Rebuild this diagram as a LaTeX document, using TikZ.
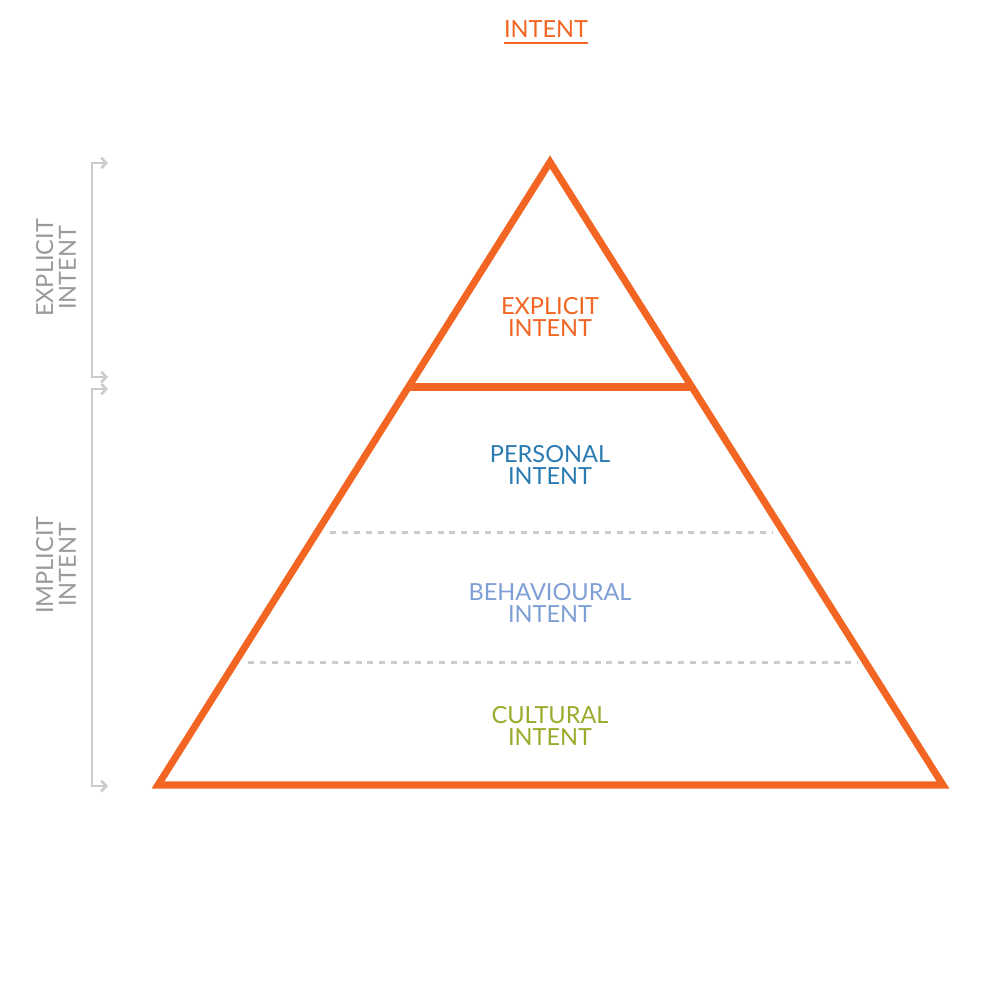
\documentclass[tikz,border=0pt]{standalone}
\usepackage{fontspec}
\setmainfont{Lato}
\usetikzlibrary{arrows.meta}
\definecolor{org}{HTML}{F26522}
\definecolor{pers}{HTML}{2B7BB3}
\definecolor{behav}{HTML}{7E9FD6}
\definecolor{cult}{HTML}{9CAA2C}
\definecolor{lbl}{HTML}{9A9A9A}
\definecolor{brk}{HTML}{CCCCCC}
\begin{document}
\begin{tikzpicture}[x=0.1mm,y=-0.1mm,
  lab/.style={font=\fontsize{6.7}{6.5}\selectfont, align=center, inner sep=0pt},
  side/.style={lab, text=lbl, rotate=90},
  bracket/.style={draw=brk, line width=0.75pt, {Straight Barb[length=1.4pt,width=3pt]}-{Straight Barb[length=1.4pt,width=3pt]}},
  divider/.style={draw=brk, line width=0.85pt, dash pattern=on 1.7pt off 1.7pt}]
\useasboundingbox (0,0) rectangle (1000,1000);
\fill[white] (0,0) rectangle (1000,1000);
% triangle
\coordinate (apex) at (550,162);
\coordinate (bl) at (158,785);
\coordinate (br) at (943,785);
\coordinate (ml) at (409,387);
\coordinate (mr) at (691,387);
\coordinate (d1l) at (330,532);
\coordinate (d1r) at (773,532);
\coordinate (d2l) at (248,662);
\coordinate (d2r) at (858,662);
\draw[divider] (d1l) -- (d1r);
\draw[divider] (d2l) -- (d2r);
\draw[org, line width=2pt, line join=miter] (apex) -- (br) -- (bl) -- cycle;
\draw[org, line width=2pt] (ml) -- (mr);
% labels
\node[lab, text=org] (explicit) at (550,317) {EXPLICIT\\INTENT};
\node[lab, text=pers] (personal) at (550,465) {PERSONAL\\INTENT};
\node[lab, text=behav] (behavioural) at (550,603) {BEHAVIOURAL\\INTENT};
\node[lab, text=org, text=cult] (cultural) at (550,726) {CULTURAL\\INTENT};
\node[lab, text=org, font=\fontsize{6.7}{7}\selectfont] (title) at (546,33) {\underline{INTENT}};
% side brackets
\coordinate (e1) at (108,163);
\coordinate (e2) at (108,377);
\coordinate (i1) at (108,389);
\coordinate (i2) at (108,786);
\draw[bracket] (e1) -- (92,163) -- (92,377) -- (e2);
\draw[bracket] (i1) -- (92,389) -- (92,786) -- (i2);
\node[side] (sexp) at (56,268) {EXPLICIT\\INTENT};
\node[side] (simp) at (56,565) {IMPLICIT\\INTENT};
\end{tikzpicture}
\end{document}
